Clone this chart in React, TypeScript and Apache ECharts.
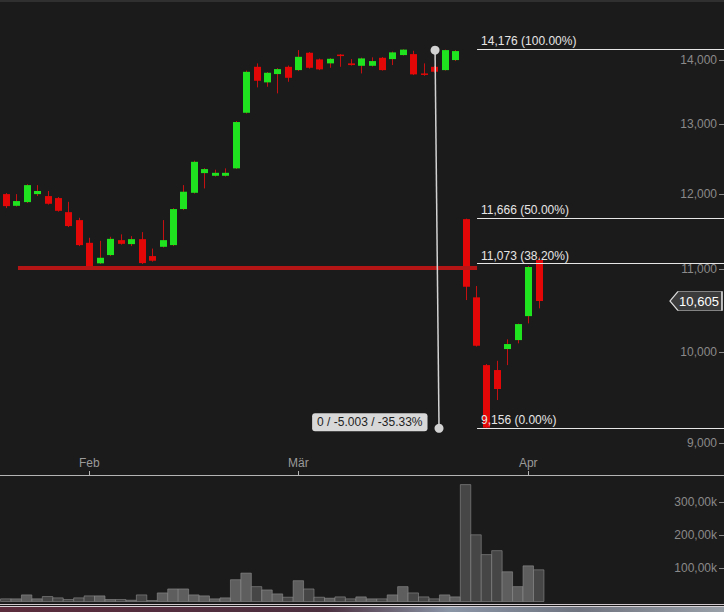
import React, { useEffect, useRef } from 'react';
import * as echarts from 'echarts';

// ---- data ----
const openPrices = [11996, 11835, 11886, 11996, 11969, 11941, 11749, 11642, 11341, 11076, 11182, 11376, 11324, 11389, 11169, 11289, 11311, 11791, 12014, 12290, 12252, 12252, 12357, 13175, 13892, 13645, 13776, 13892, 13839, 14119, 14011, 13947, 14089, 13947, 13908, 13908, 14037, 14016, 14081, 14097, 13786, 13892, 13839, 14000, 11655, 10650, 9850, 9794, 10034, 10138, 10422, 11118];
const closePrices = [11831, 11900, 12121, 12039, 11863, 11767, 11562, 11311, 11032, 11147, 11393, 11328, 11389, 11079, 11109, 11376, 11791, 12029, 12451, 12347, 12294, 12294, 13035, 13812, 13670, 13797, 13855, 13717, 14053, 13876, 13851, 14021, 14073, 13920, 14027, 13984, 13839, 14125, 14170, 13771, 13771, 13813, 14162, 14146, 10781, 10072, 9165, 9582, 10092, 10327, 11029, 10605];
const highPrices = [12010, 11996, 12134, 12121, 12039, 11955, 11890, 11673, 11407, 11367, 11420, 11452, 11429, 11482, 11266, 11642, 11804, 12121, 12468, 12361, 12338, 12357, 13050, 13832, 13947, 13808, 13871, 13912, 14162, 14130, 14024, 14032, 14097, 14016, 14040, 14044, 14049, 14138, 14176, 14151, 13947, 13904, 14170, 14162, 11662, 10790, 9862, 9899, 10147, 10333, 11042, 11160];
const lowPrices = [11804, 11825, 11873, 11969, 11852, 11756, 11549, 11298, 11022, 11067, 11169, 11318, 11298, 11067, 11098, 11279, 11298, 11777, 12003, 12075, 12241, 12241, 12347, 13163, 13566, 13576, 13473, 13654, 13823, 13864, 13839, 13876, 13892, 13912, 13786, 13895, 13832, 13920, 14073, 13760, 13749, 13800, 13832, 13984, 10617, 10063, 9156, 9461, 9850, 10100, 10335, 10516];
const volumes = [8000, 8000, 20000, 8000, 15000, 11000, 6000, 11000, 17000, 17000, 6000, 6000, 4000, 20000, 3000, 26000, 38000, 38000, 20000, 17000, 8000, 11000, 66000, 86000, 45000, 35000, 23000, 13000, 63000, 38000, 13000, 10000, 14000, 8000, 14000, 8000, 8000, 20000, 45000, 26000, 14000, 8000, 20000, 14000, 354000, 202000, 142000, 154000, 90000, 45000, 108000, 96000];

const monthTickIndex = [8, 28, 50];
const monthLabels = ['Feb', 'Mär', 'Apr'];
const priceTicks = [9000, 10000, 11000, 12000, 13000, 14000];
const volumeTicks = [100000, 200000, 300000];

const fibHigh = 14176;
const fibLow = 9156;
const fibRatios = [1, 0.5, 0.382, 0];
const fibStartIndex = 45.1;
const supportLevel = 11015;
const supportFrom = 1.17;
const supportTo = 45.1;
const measureTop = { index: 41.08, price: 14161 };
const measureBottom = { index: 41.46, price: 9158 };
const measureText = '0 / -5.003 / -35.33%';
const lastPrice = 10605;
const lastPriceTagIndex = 66.05;

const X_MIN = -0.55;
const X_MAX = 68.73;
const PRICE_MIN = 8678;
const PRICE_MAX = 15004;
const VOLUME_MAX = 374000;

const FONT = "'Liberation Sans', Arial, sans-serif";
const GREEN = '#1fe31f';
const RED = '#e30707';
const WICK = '#c41010';

const withCommas = (n: number) => String(n).replace(/\B(?=(\d{3})+(?!\d))/g, ',');

export default function App() {
  const ref = useRef<HTMLDivElement>(null);

  useEffect(() => {
    if (!ref.current) return;
    const chart = echarts.init(ref.current, undefined, { renderer: 'svg' });

    const candleData = openPrices.map((o, i) => [
      i,
      Math.log(o),
      Math.log(closePrices[i]),
      Math.log(lowPrices[i]),
      Math.log(highPrices[i]),
    ]);
    const volumeData = volumes.map((v, i) => [i, v, closePrices[i] >= openPrices[i] ? 1 : 0]);

    const fibLines = fibRatios.map((r) => {
      const v = fibLow + r * (fibHigh - fibLow);
      const name = `${withCommas(Math.floor(v + 1e-6))} (${(r * 100).toFixed(2)}%)`;
      return [
        { name, coord: [fibStartIndex, Math.log(v)] },
        { coord: [X_MAX, Math.log(v)] },
      ];
    });

    const option: any = {
      animation: false,
      backgroundColor: '#1c1b1b',
      textStyle: { fontFamily: FONT },
      grid: [
        { left: 0, right: 0, top: 0, height: 475 },
        { left: 0, right: 0, top: 478, height: 123.5 },
      ],
      xAxis: [
        {
          type: 'value',
          gridIndex: 0,
          min: X_MIN,
          max: X_MAX,
          splitLine: { show: false },
          axisLine: { show: true, onZero: false, lineStyle: { color: '#b4b4b4', width: 1 } },
          axisTick: {
            show: true,
            inside: true,
            length: 4,
            customValues: monthTickIndex,
            lineStyle: { color: '#b4b4b4' },
          },
          axisLabel: {
            show: true,
            inside: true,
            margin: 6,
            customValues: monthTickIndex,
            color: '#9a9a9a',
            fontSize: 12,
            fontFamily: FONT,
            formatter: (v: number) => monthLabels[monthTickIndex.indexOf(Math.round(v))] ?? '',
          },
        },
        {
          type: 'value',
          gridIndex: 1,
          min: X_MIN,
          max: X_MAX,
          show: false,
          axisLine: { onZero: false },
        },
      ],
      yAxis: [
        {
          type: 'value',
          gridIndex: 0,
          position: 'right',
          min: Math.log(PRICE_MIN),
          max: Math.log(PRICE_MAX),
          splitLine: { show: false },
          axisLine: { show: false, onZero: false },
          axisTick: {
            show: true,
            inside: true,
            length: 5,
            customValues: priceTicks.map((p) => Math.log(p)),
            lineStyle: { color: '#8a8a8a' },
          },
          axisLabel: {
            show: true,
            inside: true,
            margin: 7,
            customValues: priceTicks.map((p) => Math.log(p)),
            color: '#8a8a8a',
            fontSize: 12,
            fontFamily: FONT,
            formatter: (v: number) => withCommas(Math.round(Math.exp(v) / 10) * 10),
          },
        },
        {
          type: 'value',
          gridIndex: 1,
          position: 'right',
          min: 0,
          max: VOLUME_MAX,
          splitLine: { show: false },
          axisLine: { show: false, onZero: false },
          axisTick: {
            show: true,
            inside: true,
            length: 5,
            customValues: volumeTicks,
            lineStyle: { color: '#8a8a8a' },
          },
          axisLabel: {
            show: true,
            inside: true,
            margin: 7,
            customValues: volumeTicks,
            color: '#8a8a8a',
            fontSize: 12,
            fontFamily: FONT,
            formatter: (v: number) => (v / 1000).toFixed(2).replace('.', ',') + 'k',
          },
        },
      ],
      series: [
        {
          type: 'line',
          xAxisIndex: 0,
          yAxisIndex: 0,
          data: [],
          z: 1,
          markLine: {
            silent: true,
            animation: false,
            symbol: ['none', 'none'],
            lineStyle: { color: '#e6e6e6', width: 1, type: 'solid' },
            label: {
              show: true,
              position: 'insideStartTop',
              formatter: '{b}',
              color: '#e6e6e6',
              fontSize: 12,
              fontFamily: FONT,
              distance: [4, 2],
            },
            emphasis: { disabled: true },
            data: fibLines,
          },
        },
        {
          type: 'line',
          xAxisIndex: 0,
          yAxisIndex: 0,
          data: [],
          z: 2,
          markLine: {
            silent: true,
            animation: false,
            symbol: ['none', 'none'],
            lineStyle: { color: '#b51515', width: 4, type: 'solid' },
            label: { show: false },
            emphasis: { disabled: true },
            data: [[{ coord: [supportFrom, Math.log(supportLevel)] }, { coord: [supportTo, Math.log(supportLevel)] }]],
          },
        },
        {
          type: 'custom',
          name: 'candles',
          xAxisIndex: 0,
          yAxisIndex: 0,
          z: 3,
          clip: true,
          data: candleData,
          encode: { x: 0, y: [1, 2, 3, 4] },
          renderItem: (params: any, api: any) => {
            const i = api.value(0);
            const o = api.value(1);
            const c = api.value(2);
            const l = api.value(3);
            const h = api.value(4);
            const po = api.coord([i, o]);
            const pc = api.coord([i, c]);
            const pl = api.coord([i, l]);
            const ph = api.coord([i, h]);
            const w = Math.round(api.size([1, 0])[0] * 0.66);
            const up = c > o;
            const top = Math.min(po[1], pc[1]);
            const bh = Math.max(1.5, Math.abs(po[1] - pc[1]));
            const cx = Math.round(po[0]);
            return {
              type: 'group',
              children: [
                {
                  type: 'line',
                  shape: { x1: cx + 0.5, y1: ph[1], x2: cx + 0.5, y2: pl[1] },
                  style: { stroke: WICK, lineWidth: 1 },
                },
                {
                  type: 'rect',
                  shape: { x: cx + 0.5 - w / 2, y: top, width: w, height: bh },
                  style: { fill: up ? GREEN : RED },
                },
              ],
            };
          },
        },
        {
          type: 'custom',
          name: 'volume',
          xAxisIndex: 1,
          yAxisIndex: 1,
          z: 3,
          data: volumeData,
          encode: { x: 0, y: 1 },
          renderItem: (params: any, api: any) => {
            const i = api.value(0);
            const v = api.value(1);
            const up = api.value(2) === 1;
            const p0 = api.coord([i - 0.5, v]);
            const p1 = api.coord([i + 0.5, 0]);
            return {
              type: 'rect',
              shape: { x: p0[0], y: p0[1], width: p1[0] - p0[0], height: p1[1] - p0[1] },
              style: {
                fill: up ? '#5e5e5e' : '#464646',
                stroke: 'rgba(150,150,150,0.55)',
                lineWidth: 1,
              },
            };
          },
        },
        {
          type: 'line',
          xAxisIndex: 0,
          yAxisIndex: 0,
          data: [],
          z: 5,
          markLine: {
            silent: true,
            animation: false,
            lineStyle: { color: '#d2d2d2', width: 1.5, type: 'solid' },
            label: { show: false },
            emphasis: { disabled: true },
            data: [
              [
                { coord: [measureTop.index, Math.log(measureTop.price)], symbol: 'circle', symbolSize: 9 },
                { coord: [measureBottom.index, Math.log(measureBottom.price)], symbol: 'circle', symbolSize: 9 },
              ],
            ],
          },
          markPoint: {
            silent: true,
            animation: false,
            data: [
              {
                coord: [measureBottom.index, Math.log(measureBottom.price)],
                symbol: 'circle',
                symbolSize: 1,
                itemStyle: { color: 'rgba(0,0,0,0)' },
                label: {
                  show: true,
                  position: 'left',
                  distance: 11,
                  offset: [0, -6],
                  formatter: measureText,
                  color: '#1e1e1e',
                  fontSize: 12,
                  fontFamily: FONT,
                  backgroundColor: '#d8d8d8',
                  padding: [3, 5, 3, 5],
                  borderRadius: 3,
                },
              },
              {
                coord: [lastPriceTagIndex, Math.log(lastPrice)],
                symbol: 'path://M0,9 L8,0 L52,0 L52,18 L8,18 Z',
                symbolSize: [52, 19],
                symbolKeepAspect: false,
                itemStyle: { color: '#3b3b3b', borderColor: '#dcdcdc', borderWidth: 1 },
                label: {
                  show: true,
                  position: 'inside',
                  offset: [3, 0],
                  formatter: withCommas(lastPrice),
                  color: '#ffffff',
                  fontSize: 13,
                  fontFamily: FONT,
                },
              },
            ],
          },
        },
      ],
      graphic: [
        { type: 'rect', left: 0, top: 0, shape: { width: 724, height: 2 }, style: { fill: '#303030' }, silent: true },
        { type: 'rect', left: 0, top: 604, shape: { width: 724, height: 1 }, style: { fill: '#cfc6cc' }, silent: true },
        { type: 'rect', left: 0, top: 606, shape: { width: 724, height: 1 }, style: { fill: '#d6d2d6' }, silent: true },
        {
          type: 'rect',
          left: 0,
          top: 607,
          shape: { width: 724, height: 5 },
          silent: true,
          style: {
            fill: new echarts.graphic.LinearGradient(0, 0, 1, 0, [
              { offset: 0, color: '#5b2c3c' },
              { offset: 0.45, color: '#4c3040' },
              { offset: 0.62, color: '#8a95a6' },
              { offset: 0.8, color: '#6f7480' },
              { offset: 1, color: '#9aa0a8' },
            ]),
          },
        },
      ],
    };

    chart.setOption(option);
    return () => chart.dispose();
  }, []);

  return (
    <div
      ref={ref}
      style={{ position: 'fixed', left: 0, top: 0, width: 724, height: 612, background: '#1c1b1b' }}
    />
  );
}
